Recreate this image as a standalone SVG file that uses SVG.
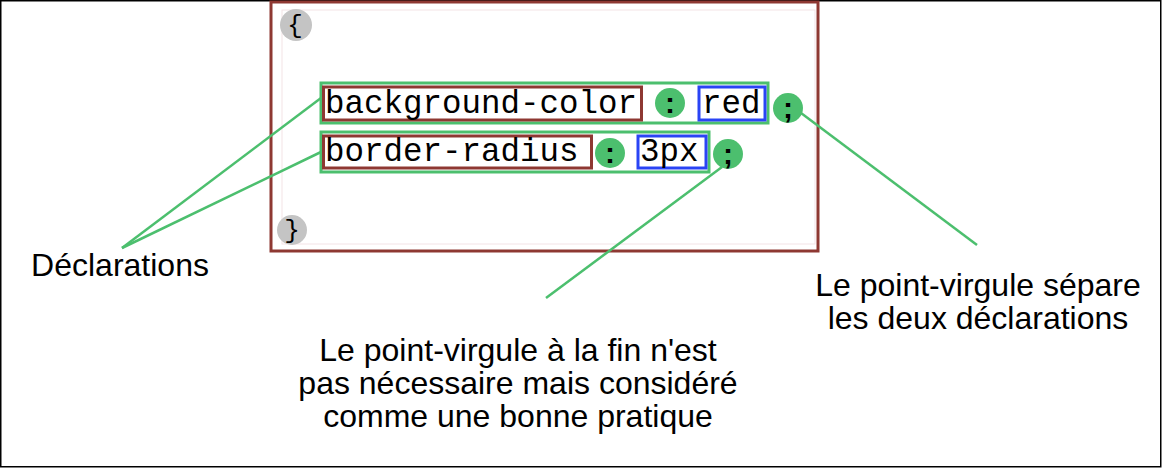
<svg xmlns="http://www.w3.org/2000/svg" width="1163" height="469" viewBox="0 0 1163 469">
<style>
.code{font-family:"Liberation Mono","Courier New",monospace;font-size:32.5px;fill:#000}
.lbl{font-family:"Liberation Sans",Arial,sans-serif;font-size:32px;fill:#000;text-anchor:middle}
.g{fill:none;stroke:#4cbf6e;stroke-width:3}
.br{fill:none;stroke:#8e3832;stroke-width:3}
.bl{fill:none;stroke:#2a44f5;stroke-width:3}
.dot{fill:#4cbf6e}
.gray{fill:#c4c4c4}
.p{font-family:"Liberation Sans",Arial,sans-serif;font-weight:bold;font-size:30px;fill:#000;text-anchor:middle}
.brace{font-family:"Liberation Mono",monospace;font-size:26px;fill:#000;text-anchor:middle}
.ln{stroke:#4cbf6e;stroke-width:2.5;fill:none}
</style>
<rect x="0.75" y="0.75" width="1160" height="466" fill="#fff" stroke="#000" stroke-width="1.5"/>
<g id="block">
<rect x="271" y="2" width="547" height="249" fill="#fff" stroke="#8e3832" stroke-width="3"/>
<rect x="282" y="10" width="533" height="234" fill="none" stroke="#f3e3e6" stroke-width="1"/>
</g>
<g id="open-brace">
<circle class="gray" cx="296" cy="25" r="16"/>
<text class="brace" x="295" y="33">{</text>
</g>
<g id="close-brace">
<circle class="gray" cx="292" cy="230" r="15"/>
<text class="brace" x="292" y="238">}</text>
</g>
<g id="decl1">
<rect class="g" x="321" y="83" width="447" height="40"/>
<rect class="br" x="323.5" y="87" width="318" height="33"/>
<text class="code" x="325" y="113">background-color</text>
<circle class="dot" cx="670" cy="103" r="15"/>
<text class="p" x="670" y="113">:</text>
<rect class="bl" x="699" y="87" width="66" height="33"/>
<text class="code" x="702" y="113">red</text>
</g>
<g id="semi1">
<circle class="dot" cx="788" cy="108" r="15"/>
<text class="p" x="788" y="118">;</text>
</g>
<g id="decl2">
<rect class="g" x="321" y="132" width="388" height="40"/>
<rect class="br" x="323.5" y="136" width="268" height="32"/>
<text class="code" x="325" y="161">border-radius</text>
<circle class="dot" cx="610" cy="153" r="15"/>
<text class="p" x="610" y="163">:</text>
<rect class="bl" x="638" y="136" width="68" height="32"/>
<text class="code" x="640" y="161">3px</text>
</g>
<g id="semi2">
<circle class="dot" cx="728" cy="154" r="15"/>
<text class="p" x="728" y="164">;</text>
</g>
<g id="connectors">
<line class="ln" x1="321" y1="98" x2="122" y2="248"/>
<line class="ln" x1="321" y1="152" x2="122" y2="248"/>
<line class="ln" x1="801" y1="113" x2="977" y2="245"/>
<line class="ln" x1="722" y1="167" x2="546" y2="298"/>
</g>
<g id="label-decl">
<text class="lbl" x="120" y="276">Déclarations</text>
</g>
<g id="label-sep">
<text class="lbl" x="978" y="296">Le point-virgule sépare</text>
<text class="lbl" x="978" y="329">les deux déclarations</text>
</g>
<g id="label-end">
<text class="lbl" x="518" y="361">Le point-virgule à la fin n'est</text>
<text class="lbl" x="518" y="394">pas nécessaire mais considéré</text>
<text class="lbl" x="518" y="427">comme une bonne pratique</text>
</g>
</svg>
